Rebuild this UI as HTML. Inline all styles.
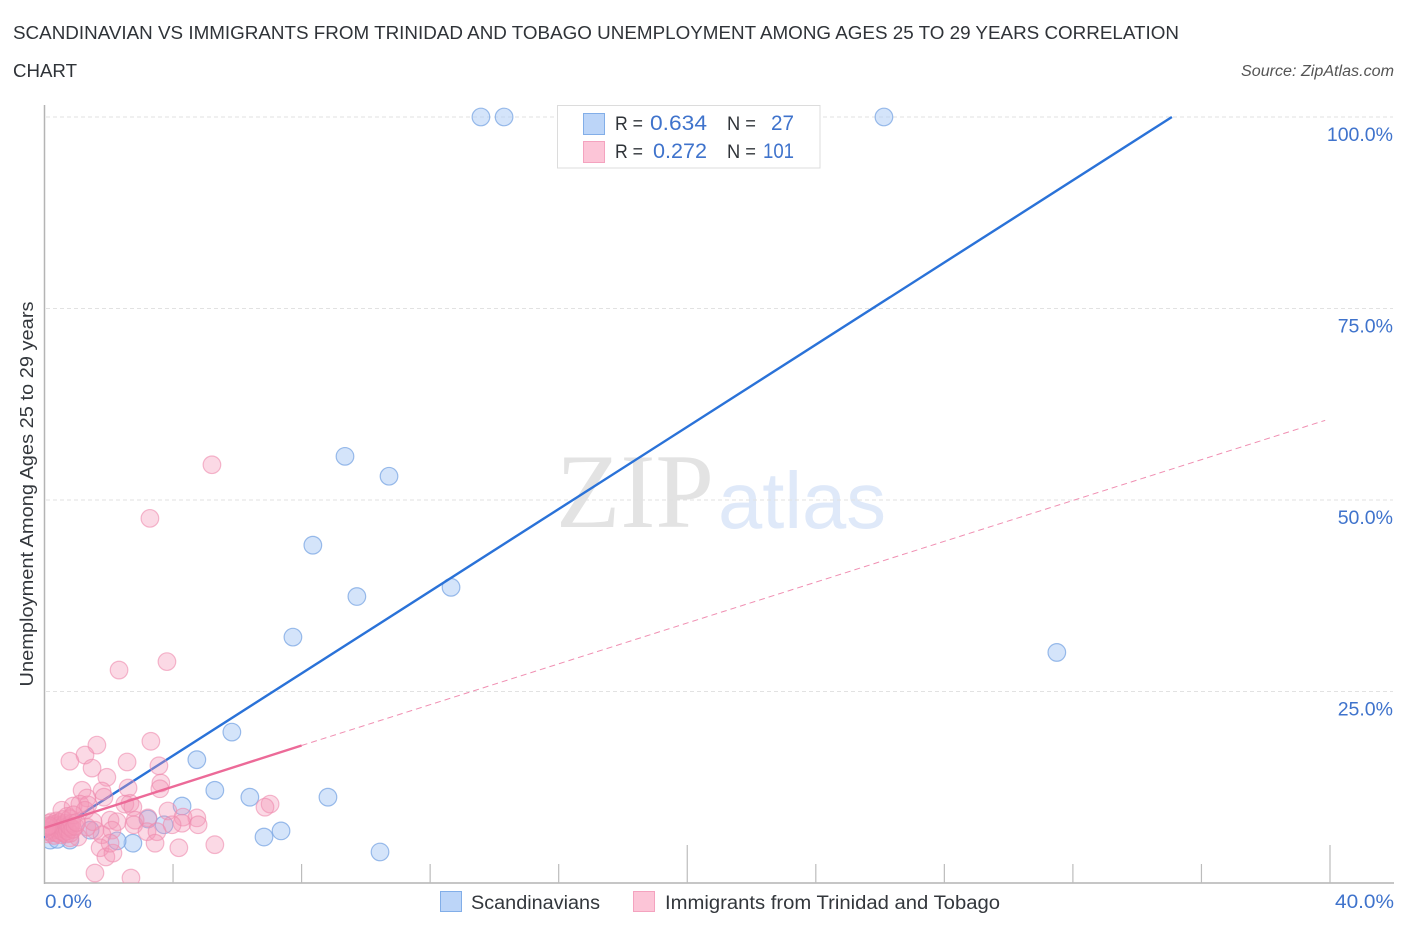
<!DOCTYPE html>
<html lang="en">
<head>
<meta charset="utf-8">
<title>Scandinavian vs Immigrants from Trinidad and Tobago Unemployment Correlation Chart</title>
<style>
html,body{margin:0;padding:0;background:#fff;width:1406px;height:930px;overflow:hidden}
svg{display:block;font-family:"Liberation Sans",sans-serif}
</style>
</head>
<body>
<svg id="chart" width="1406" height="930" viewBox="0 0 1406 930" xmlns="http://www.w3.org/2000/svg">
  <defs><clipPath id="plot-clip"><rect x="45" y="100" width="1349" height="783"/></clipPath></defs>

  <text x="13" y="39" font-size="18.5" fill="#2f3338" textLength="1166" lengthAdjust="spacingAndGlyphs">SCANDINAVIAN VS IMMIGRANTS FROM TRINIDAD AND TOBAGO UNEMPLOYMENT AMONG AGES 25 TO 29 YEARS CORRELATION</text>
  <text x="13" y="77" font-size="18.5" fill="#2f3338" textLength="64" lengthAdjust="spacingAndGlyphs">CHART</text>
  <text x="1394" y="76" font-size="15.5" font-style="italic" fill="#555" text-anchor="end" textLength="153" lengthAdjust="spacingAndGlyphs">Source: ZipAtlas.com</text>

  <text x="556" y="527" font-family="'Liberation Serif',serif" font-size="106" fill="#e3e3e3" textLength="158" lengthAdjust="spacingAndGlyphs">ZIP</text>
  <text x="718" y="528" font-size="80" fill="#dfe9f9" textLength="168" lengthAdjust="spacingAndGlyphs">atlas</text>

  <g id="grid"></g>
  <g id="axes"></g>
  <g id="blue-points" clip-path="url(#plot-clip)"></g>
  <g id="blue-trend"></g>
  <g id="pink-points" clip-path="url(#plot-clip)"></g>
  <g id="pink-trend"></g>

  <text transform="translate(33,494) rotate(-90)" font-size="18.5" fill="#33373c" text-anchor="middle" textLength="385" lengthAdjust="spacingAndGlyphs">Unemployment Among Ages 25 to 29 years</text>
  <text x="45" y="908" font-size="19.5" fill="#3f73cc" textLength="47" lengthAdjust="spacingAndGlyphs">0.0%</text>
  <text x="1394" y="908" font-size="19.5" fill="#3f73cc" text-anchor="end" textLength="59" lengthAdjust="spacingAndGlyphs">40.0%</text>

  <g>
    <rect x="557.5" y="105.5" width="262.5" height="62.5" fill="#fff" stroke="#dcdcdc" stroke-width="1"/>
    <rect x="583.5" y="113.5" width="21" height="21" fill="#bcd5f8" stroke="#82aee8" stroke-width="1"/>
    <rect x="583.5" y="141.5" width="21" height="21" fill="#fcc5d7" stroke="#f4a3bf" stroke-width="1"/>
    <text x="615" y="130" font-size="19" fill="#2f3338" textLength="28" lengthAdjust="spacingAndGlyphs">R =</text>
    <text x="650" y="130" font-size="21" fill="#3f73cc" textLength="57" lengthAdjust="spacingAndGlyphs">0.634</text>
    <text x="727" y="130" font-size="19" fill="#2f3338" textLength="29" lengthAdjust="spacingAndGlyphs">N =</text>
    <text x="771" y="130" font-size="21" fill="#3f73cc" textLength="23" lengthAdjust="spacingAndGlyphs">27</text>
    <text x="615" y="158" font-size="19" fill="#2f3338" textLength="28" lengthAdjust="spacingAndGlyphs">R =</text>
    <text x="653" y="158" font-size="21" fill="#3f73cc" textLength="54" lengthAdjust="spacingAndGlyphs">0.272</text>
    <text x="727" y="158" font-size="19" fill="#2f3338" textLength="29" lengthAdjust="spacingAndGlyphs">N =</text>
    <text x="763" y="158" font-size="21" fill="#3f73cc" textLength="31" lengthAdjust="spacingAndGlyphs">101</text>
  </g>

  <g>
    <rect x="440.5" y="891.5" width="21" height="20" fill="#bcd5f8" stroke="#82aee8" stroke-width="1"/>
    <text x="471" y="909" font-size="19" fill="#33373c" textLength="129" lengthAdjust="spacingAndGlyphs">Scandinavians</text>
    <rect x="633.5" y="891.5" width="21" height="20" fill="#fcc5d7" stroke="#f4a3bf" stroke-width="1"/>
    <text x="665" y="909" font-size="19" fill="#33373c" textLength="335" lengthAdjust="spacingAndGlyphs">Immigrants from Trinidad and Tobago</text>
  </g>
</svg>

<script>
const yTickValues = [25, 50, 75, 100];
const yTickLabels = ["25.0%", "50.0%", "75.0%", "100.0%"];
const xTickValues = [0, 4, 8, 12, 16, 20, 24, 28, 32, 36, 40];
const xMajorTicks = [20, 40];

const blueX = [13.58,14.30,26.12,9.35,10.72,8.35,9.72,12.65,7.73,31.5,5.83,4.74,5.30,6.39,8.82,4.28,3.22,3.72,7.36,6.83,2.75,2.26,10.44,0.79,0.18,0.40,1.42];
const blueY = [100,100,100,55.7,53.1,44.1,37.4,38.6,32.1,30.1,19.7,16.1,12.1,11.2,11.2,10.05,8.35,7.6,6.8,6.0,5.2,5.5,4.05,5.6,5.6,5.7,6.9];

const pinkX = [3.31,1.63,1.26,0.79,1.48,2.57,3.56,1.94,3.62,2.6,3.59,1.17,1.79,1.85,1.32,7.02,6.86,3.84,2.66,2.5,2.75,0.54,0.89,1.1,1.35,1.26,4.31,4.74,3.22,4.28,4.78,2.82,2.78,3.97,3.19,3.5,3.44,4.18,5.3,2.04,2.26,2.1,1.57,1.79,1.32,1.51,1.73,1.91,2.13,2.04,1.57,2.69,0.79,1.04,5.21,3.28,2.32,3.81,
  0.1,0.12,0.15,0.18,0.2,0.22,0.25,0.28,0.3,0.3,0.33,0.35,0.38,0.4,0.4,0.42,0.45,0.47,0.5,0.5,0.52,0.55,0.58,0.6,0.6,0.62,0.65,0.68,0.7,0.7,0.72,0.75,0.78,0.8,0.8,0.85,0.88,0.9,0.95,1,0.05,0.08,0.14];
const pinkY = [18.5,18,16.7,15.9,15,15.8,15.3,13.8,13.05,12.4,12.3,12.1,12,11.2,11.1,10.3,9.9,9.4,10.4,10.3,9.9,9.5,10.05,10.3,10.2,9.5,8.6,8.5,8.5,7.8,7.6,8.2,7.6,7.6,6.7,6.7,5.2,4.6,5,8.2,8,6.9,6.9,6.3,7.3,8,4.6,3.4,3.9,5.2,1.3,0.65,5.9,6,54.6,47.6,27.8,28.9,
  6.4,7.1,7.8,6.6,7.3,8,6.9,7.5,6.2,7.7,6.6,7.2,8.1,6.5,7.4,6.9,7.9,7.1,6.3,7.6,6.8,7.3,8.3,6.6,7.5,7.0,7.8,6.4,8.7,7.2,6.8,7.5,8.4,6.5,7.3,7.8,7.0,8.9,7.4,7.9,6.8,7.3,7.5];

const blueTrendX = [0, 35.08];
const blueTrendY = [5.9, 100];
const pinkSolidX = [0, 8];
const pinkSolidY = [7.2, 17.95];
const pinkDashX = [8, 39.85];
const pinkDashY = [17.95, 60.4];

const NS = "http://www.w3.org/2000/svg";
function xScale(v) { return 44.5 + v * (1330 - 44.5) / 40; }
function yScale(v) { return 883 - v * (883 - 117) / 100; }
function make(tag, attrs, parent) {
  const el = document.createElementNS(NS, tag);
  for (const k in attrs) el.setAttribute(k, attrs[k]);
  parent.appendChild(el);
  return el;
}

const gridG = document.getElementById("grid");
yTickValues.forEach(function (v, i) {
  const line = make("line", {x1: 46, x2: 1393, y1: yScale(v), y2: yScale(v), stroke: "#e2e2e2", "stroke-width": 1, "stroke-dasharray": "4 3"}, gridG);
  
  
  const label = make("text", {x: 1393, y: yScale(v) + 24, "font-size": 19.5, fill: "#3f73cc", "text-anchor": "end"}, gridG);
  
  
  label.textContent = yTickLabels[i];
});

const axesG = document.getElementById("axes");
const yAxis = make("line", {x1: 44.5, x2: 44.5, y1: 105, y2: 884, stroke: "#b4b4b4", "stroke-width": 1.5}, axesG);


const xAxis = make("line", {x1: 44, x2: 1394, y1: 883, y2: 883, stroke: "#b4b4b4", "stroke-width": 1.5}, axesG);


xTickValues.forEach(function (v) {
  if (v === 0) return;
  const major = xMajorTicks.indexOf(v) >= 0;
  const tick = make("line", {x1: xScale(v), x2: xScale(v), y1: major ? 845 : 864, y2: 883, stroke: "#bcbcbc", "stroke-width": 1.2}, axesG);
  
  
});

const blueG = document.getElementById("blue-points");
blueX.forEach(function (v, i) {
  const c = make("circle", {cx: xScale(v), cy: yScale(blueY[i]), r: 8.8, fill: "#a9c9f5", "fill-opacity": 0.5, stroke: "#7aa6e3", "stroke-opacity": 0.75, "stroke-width": 1.2}, blueG);
  
  
});

const blueTrendG = document.getElementById("blue-trend");
const bl = make("line", {x1: xScale(blueTrendX[0]), y1: yScale(blueTrendY[0]), x2: xScale(blueTrendX[1]), y2: yScale(blueTrendY[1]), stroke: "#2a72d8", "stroke-width": 2.4}, blueTrendG);



const pinkG = document.getElementById("pink-points");
pinkX.forEach(function (v, i) {
  const c = make("circle", {cx: xScale(v), cy: yScale(pinkY[i]), r: 8.8, fill: "#f595b8", "fill-opacity": 0.36, stroke: "#ef8aae", "stroke-opacity": 0.6, "stroke-width": 1.2}, pinkG);
  
  
});

const pinkTrendG = document.getElementById("pink-trend");
const ps = make("line", {x1: xScale(pinkSolidX[0]), y1: yScale(pinkSolidY[0]), x2: xScale(pinkSolidX[1]), y2: yScale(pinkSolidY[1]), stroke: "#ec6a98", "stroke-width": 2.4}, pinkTrendG);


const pd = make("line", {x1: xScale(pinkDashX[0]), y1: yScale(pinkDashY[0]), x2: xScale(pinkDashX[1]), y2: yScale(pinkDashY[1]), stroke: "#f08fb2", "stroke-width": 1, "stroke-dasharray": "6 4"}, pinkTrendG);


</script>
</body>
</html>
